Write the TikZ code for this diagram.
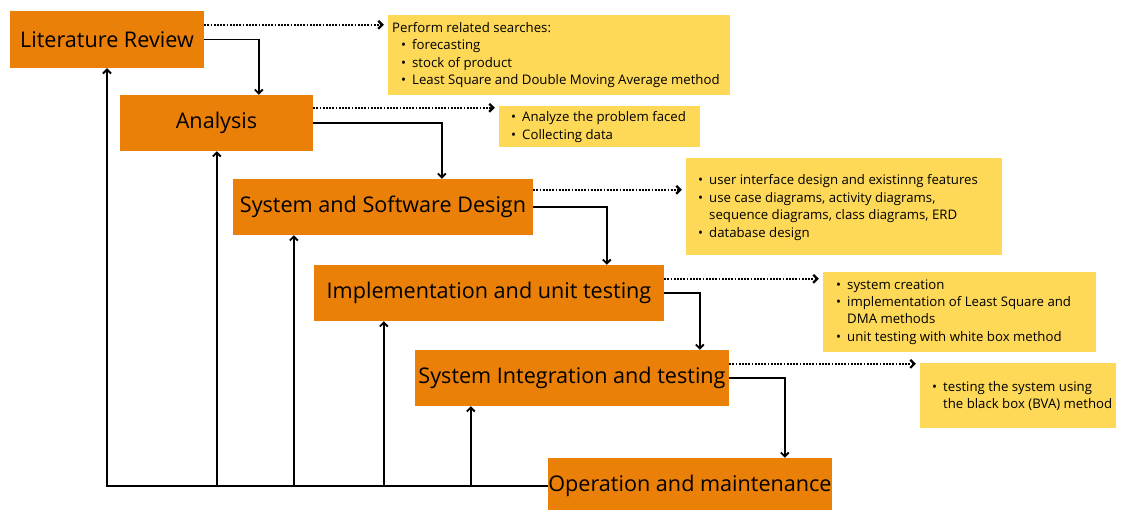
\documentclass[tikz,border=0pt]{standalone}
\usepackage{fontspec}
\setmainfont{Open Sans}
\usetikzlibrary{arrows.meta,calc}
\definecolor{orng}{RGB}{234,128,8}
\definecolor{ylw}{RGB}{254,217,88}
\newcommand\nbul{\makebox[11pt][l]{\textbullet}}
\begin{document}
\begin{tikzpicture}[x=1pt,y=-1pt,
  phase/.style={fill=orng, inner sep=0pt, font=\fontsize{21.6}{26}\selectfont, text=black},
  note/.style={fill=ylw, inner sep=0pt},
  notetext/.style={anchor=west, inner sep=0pt, font=\fontsize{13.2}{17.4}\selectfont, align=left, text=black},
  arr/.style={line width=1.9pt, -{Straight Barb[length=4pt,width=8pt]}},
  dotarr/.style={line width=2.2pt, dash pattern=on 1.8pt off 1.4pt, -{Straight Barb[length=4pt,width=8pt]}, shorten >=4pt}]
\clip (0,0) rectangle (1121,510);
\fill[white] (0,0) rectangle (1121,510);
% phases
\node[phase, minimum width=194pt, minimum height=57pt] (lr) at (107,39.5) {Literature Review};
\node[phase, minimum width=193pt, minimum height=56pt] (an) at (216.5,123) {Analysis};
\node[phase, minimum width=300pt, minimum height=56pt] (ssd) at (383,207) {System and Software Design};
\node[phase, minimum width=350pt, minimum height=56pt] (imp) at (489,293) {Implementation and unit testing};
\node[phase, minimum width=314pt, minimum height=56pt] (sit) at (572,378) {System Integration and testing};
\node[phase, minimum width=284pt, minimum height=56pt] (om) at (690,486) {Operation and maintenance};
% notes
\node[note, minimum width=342pt, minimum height=80pt] (y1) at (559,55) {};
\node[notetext] (t1) at (392,55) {Perform related searches:\\
\hspace*{9pt}\nbul forecasting\\
\hspace*{9pt}\nbul stock of product\\
\hspace*{9pt}\nbul Least Square and Double Moving Average method};
\node[note, minimum width=201pt, minimum height=41pt] (y2) at (599.5,127) {};
\node[notetext] (t2) at (511,127) {\nbul Analyze the problem faced\\
\nbul Collecting data};
\node[note, minimum width=316pt, minimum height=97pt] (y3) at (844,206.5) {};
\node[notetext] (t3) at (698,207.5) {\nbul user interface design and existinng features\\
\nbul use case diagrams, activity diagrams,\\
\hspace*{11pt}sequence diagrams, class diagrams, ERD\\
\nbul database design};
\node[note, minimum width=273pt, minimum height=80pt] (y4) at (959.5,312) {};
\node[notetext] (t4) at (836,312) {\nbul system creation\\
\nbul implementation of Least Square and\\
\hspace*{11pt}DMA methods\\
\nbul unit testing with white box method};
\node[note, minimum width=196pt, minimum height=65pt] (y5) at (1018,395.5) {};
\node[notetext] (t5) at (932,396) {\nbul testing the system using\\
\hspace*{11pt}the black box (BVA) method};
% dotted arrows
\coordinate (d1) at ($(lr.north east)+(0,14)$);
\coordinate (d2) at ($(an.north east)+(0,13)$);
\coordinate (d3) at ($(ssd.north east)+(0,11)$);
\coordinate (d4) at ($(imp.north east)+(0,14)$);
\coordinate (d5) at ($(sit.north east)+(0,14)$);
\draw[dotarr] (d1) -- (d1 -| y1.west);
\draw[dotarr] (d2) -- (d2 -| y2.west);
\draw[dotarr] (d3) -- (d3 -| y3.west);
\draw[dotarr] (d4) -- (d4 -| y4.west);
\draw[dotarr] (d5) -- (d5 -| y5.west);
% forward arrows
\draw[arr] (lr.east) -| ([xshift=139pt]an.north west);
\draw[arr] (an.east) -| ([xshift=209pt]ssd.north west);
\draw[arr] (ssd.east) -| ([xshift=293pt]imp.north west);
\draw[arr] (imp.east) -| ([xshift=285pt]sit.north west);
\draw[arr] (sit.east) -| ([xshift=237pt]om.north west);
% feedback
\coordinate (f2) at ([xshift=97pt]an.south west);
\coordinate (f3) at ([xshift=61pt]ssd.south west);
\coordinate (f4) at ([xshift=70pt]imp.south west);
\coordinate (f5) at ([xshift=56pt]sit.south west);
\draw[arr] (om.west) -| (lr.south);
\draw[arr] (f2 |- om.west) -- (f2);
\draw[arr] (f3 |- om.west) -- (f3);
\draw[arr] (f4 |- om.west) -- (f4);
\draw[arr] (f5 |- om.west) -- (f5);
\end{tikzpicture}
\end{document}
